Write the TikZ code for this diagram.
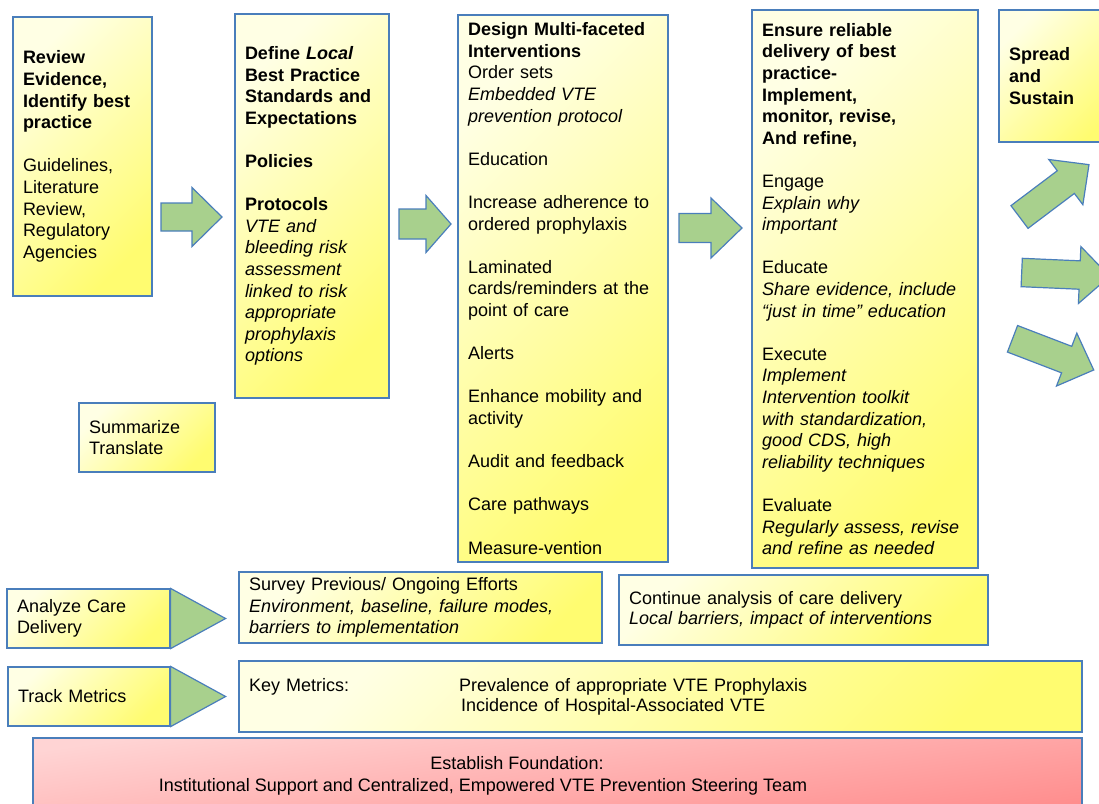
\documentclass[tikz,border=0pt]{standalone}
\usepackage{fontspec}
\setmainfont{Liberation Sans}
\usepackage{tikz}
\usetikzlibrary{shadings}
\definecolor{edgeblue}{RGB}{74,126,187}
\definecolor{arrowgreen}{RGB}{168,208,141}
\definecolor{boxlight}{RGB}{255,255,228}
\definecolor{boxdeep}{RGB}{255,252,112}
\definecolor{redlight}{RGB}{255,212,212}
\definecolor{reddeep}{RGB}{255,140,140}
\newcommand{\boxfont}{\fontsize{13.5pt}{16.2pt}\selectfont}
\tikzset{
	stagebox/.style={draw=edgeblue, line width=0.9pt, top color=boxlight, bottom color=boxdeep, shading angle=45, inner xsep=7.5pt, inner ysep=0pt, align=left, font=\boxfont},
	redbox/.style={draw=edgeblue, line width=0.9pt, top color=redlight, bottom color=reddeep, shading angle=8},
	arrowshape/.style={draw=edgeblue, fill=arrowgreen, line width=0.9pt, line join=miter}
}
\def\blockarrow[#1](#2)(#3:#4:#5:#6){\draw[arrowshape, shift={(#2)}, rotate=#1] (0,-#5) -- (#3,-#5) -- (#3,-#6) -- ({#3+#4},0) -- (#3,#6) -- (#3,#5) -- (0,#5) -- cycle;}

\begin{document}
\begin{tikzpicture}[x=0.75pt, y=-0.75pt]
			%%%%% START %%%%%
			\useasboundingbox (0,0) rectangle (1099,803);
			\clip (0,0) rectangle (1099,803);
			
			\node[stagebox, minimum width=104.25pt, minimum height=209.25pt, text width=89.25pt] (review) at (82.5,156.5) {\textbf{Review\\Evidence,\\Identify best\\practice}\\[16.2pt]
				Guidelines,\\Literature\\Review,\\Regulatory\\Agencies};
			
			\node[stagebox, minimum width=115.5pt, minimum height=288pt, text width=100.5pt] (define) at (312,206) {\textbf{Define \textit{Local}\\Best Practice\\Standards and\\Expectations}\\[16.2pt]
				\textbf{Policies}\\[16.2pt]
				\textbf{Protocols}\\
				\textit{VTE and\\bleeding risk\\assessment\\linked to risk\\appropriate\\prophylaxis\\options}};
			
			\node[stagebox, minimum width=157.5pt, minimum height=410.25pt, text width=142.5pt] (design) at (563,288.5) {\textbf{Design Multi-faceted\\Interventions}\\
				Order sets\\
				\textit{Embedded VTE\\prevention protocol}\\[16.2pt]
				Education\\[16.2pt]
				Increase adherence to\\ordered prophylaxis\\[16.2pt]
				Laminated\\cards/reminders at the\\point of care\\[16.2pt]
				Alerts\\[16.2pt]
				Enhance mobility and\\activity\\[16.2pt]
				Audit and feedback\\[16.2pt]
				Care pathways\\[16.2pt]
				Measure-vention};
			
			\node[stagebox, minimum width=169.5pt, minimum height=418.5pt, text width=154.5pt] (ensure) at (865,289) {\textbf{Ensure reliable\\delivery of best\\practice-\\Implement,\\monitor, revise,\\And refine,}\\[16.2pt]
				Engage\\\textit{Explain why\\important}\\[16.2pt]
				Educate\\\textit{Share evidence, include\\“just in time” education}\\[16.2pt]
				Execute\\\textit{Implement\\Intervention toolkit\\with standardization,\\good CDS, high\\reliability techniques}\\[16.2pt]
				Evaluate\\\textit{Regularly assess, revise\\and refine as needed}};
			
			\node[stagebox, minimum width=90.75pt, minimum height=99pt, text width=75.75pt] (spread) at (1059.5,76) {\textbf{Spread\\and\\Sustain}};
			
			\node[stagebox, minimum width=102pt, minimum height=51.75pt, text width=87pt] (summarize) at (147,437.5) {Summarize\\Translate};
			
			% block arrows between the stages
			\blockarrow[0](161,217)(31:30:14:29.5)
			\blockarrow[0](399,224)(27:25:15:28.5)
			\blockarrow[0](679,228)(32:31:14.5:30)
			\blockarrow[37](1019.5,217)(58:29:14.2:28.3)
			\blockarrow[-2.5](1021.7,272.5)(58:30:14.2:28.5)
			\blockarrow[-21](1012.5,338.8)(58:29:14.2:28.3)
			
			% bottom rows
			\node[stagebox, minimum width=122.25pt, minimum height=44.25pt, text width=107.25pt] (analyze) at (88.5,618.5) {Analyze Care\\Delivery};
			\draw[arrowshape] (analyze.north east) -- ([xshift=41.25pt]analyze.east) -- (analyze.south east) -- cycle;
			
			\node[stagebox, minimum width=121.5pt, minimum height=44.25pt, text width=106.5pt] (track) at (89,696.5) {Track Metrics};
			\draw[arrowshape] (track.north east) -- ([xshift=41.25pt]track.east) -- (track.south east) -- cycle;
			
			\node[stagebox, minimum width=272.25pt, minimum height=53.25pt, text width=257.25pt] (survey) at (420.5,607.5) {Survey Previous/ Ongoing Efforts\\\textit{Environment, baseline, failure modes,\\barriers to implementation}};
			
			\node[stagebox, minimum width=276.75pt, minimum height=52.5pt, text width=261.75pt] (continue) at (803.5,610) {Continue analysis of care delivery\\[-1.5pt]\textit{Local barriers, impact of interventions}};
			
			\node[stagebox, minimum width=632.25pt, minimum height=53.25pt, text width=617.25pt] (metrics) at (660.5,696.5) {\makebox[157.5pt][l]{Key Metrics:}Prevalence of appropriate VTE Prophylaxis\\[-1pt]\hspace*{159pt}Incidence of Hospital-Associated VTE};
			
			\node[redbox, minimum width=786.75pt, minimum height=61.5pt] (foundation) at (557.5,779) {};
			\node[align=center, font=\boxfont] (foundtext) at (483,776) {\hspace*{51pt}Establish Foundation:\\Institutional Support and Centralized, Empowered VTE Prevention Steering Team};
			
			%%%%% END %%%%%
\end{tikzpicture}
\end{document}
